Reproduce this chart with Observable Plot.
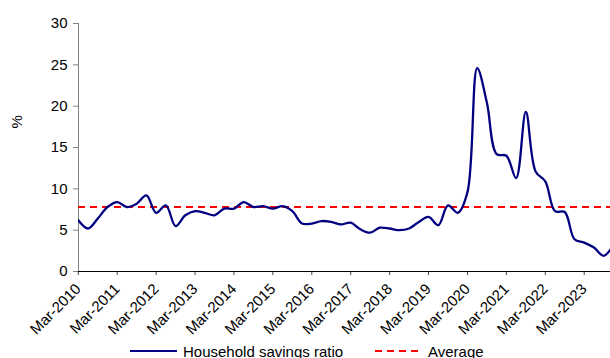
<!DOCTYPE html>
<html>
<head>
<meta charset="utf-8">
<script src="https://cdn.jsdelivr.net/npm/d3@7"></script>
<script src="https://cdn.jsdelivr.net/npm/@observablehq/plot@0.6"></script>
<style>
  html, body { margin: 0; padding: 0; background: #fff; }
  body { width: 610px; height: 358px; overflow: hidden; font-family: Arial, "Liberation Sans", sans-serif; }
  #legend { position: relative; width: 610px; height: 18px; font-size: 15px; color: #000; }
  #legend .item { position: absolute; top: 0; height: 18px; display: flex; align-items: center; white-space: nowrap; }
  #legend svg { display: block; margin-right: 6px; }
</style>
</head>
<body>
<div id="chart"></div>
<div id="legend">
  <div class="item" style="left:130px">
    <svg width="47" height="18"><line x1="0" x2="47" y1="11" y2="11" stroke="#000080" stroke-width="2"/></svg>
    <span style="position:relative;top:2px">Household savings ratio</span>
  </div>
  <div class="item" style="left:375px">
    <svg width="47" height="18"><line x1="0" x2="47" y1="11" y2="11" stroke="#ff0000" stroke-width="2" stroke-dasharray="7,5"/></svg>
    <span style="position:relative;top:2px">Average</span>
  </div>
</div>
<script>
// Quarterly periods
const quarters = [
  "Mar-2010","Jun-2010","Sep-2010","Dec-2010",
  "Mar-2011","Jun-2011","Sep-2011","Dec-2011",
  "Mar-2012","Jun-2012","Sep-2012","Dec-2012",
  "Mar-2013","Jun-2013","Sep-2013","Dec-2013",
  "Mar-2014","Jun-2014","Sep-2014","Dec-2014",
  "Mar-2015","Jun-2015","Sep-2015","Dec-2015",
  "Mar-2016","Jun-2016","Sep-2016","Dec-2016",
  "Mar-2017","Jun-2017","Sep-2017","Dec-2017",
  "Mar-2018","Jun-2018","Sep-2018","Dec-2018",
  "Mar-2019","Jun-2019","Sep-2019","Dec-2019",
  "Mar-2020","Jun-2020","Sep-2020","Dec-2020",
  "Mar-2021","Jun-2021","Sep-2021","Dec-2021",
  "Mar-2022","Jun-2022","Sep-2022","Dec-2022",
  "Mar-2023","Jun-2023","Sep-2023","Dec-2023"
];

// Household savings ratio, % (one value per quarter)
const savingsRatio = [
  6.2, 5.2, 6.4, 7.8,
  8.4, 7.8, 8.2, 9.2,
  7.1, 8.0, 5.5, 6.8,
  7.3, 7.1, 6.8, 7.6,
  7.6, 8.4, 7.8, 7.9,
  7.6, 7.9, 7.3, 5.8,
  5.8, 6.1, 6.0, 5.7,
  5.9, 5.1, 4.7, 5.3,
  5.2, 5.0, 5.2, 6.0,
  6.6, 5.6, 8.0, 7.1,
  9.6, 24.6, 20.4, 14.2,
  14.0, 11.3, 19.3, 12.1,
  10.9, 7.3, 7.2, 3.9,
  3.5, 2.9, 1.9, 3.2
];

// Long-run average of the ratio, %
const average = 7.8;

const yTicks = [0, 5, 10, 15, 20, 25, 30];
const xTickLabels = quarters.filter(q => q.startsWith("Mar"));

const data = quarters.map((q, i) => ({quarter: q, value: savingsRatio[i]}));

const chart = Plot.plot({
  width: 610,
  height: 340,
  marginLeft: 78,
  marginRight: 0,
  marginTop: 23,
  marginBottom: 69,
  style: {fontFamily: "Arial, 'Liberation Sans', sans-serif", fontSize: "15px", color: "#000", background: "#fff"},
  x: {type: "point", domain: quarters, range: [77.8, 612.9], padding: 0},
  y: {domain: [0, 30]},
  marks: [
    Plot.axisY({ticks: yTicks, tickSize: 5, tickPadding: 6, stroke: "#808080", label: null}),
    Plot.frame({anchor: "left", stroke: "#808080"}),
    Plot.axisX({ticks: xTickLabels, tickRotate: -45, tickSize: 4, tickPadding: 11, stroke: "#444", label: null}),
    Plot.ruleY([0], {stroke: "#000"}),
    Plot.ruleY([average], {stroke: "#ff0000", strokeWidth: 2, strokeDasharray: "7,5"}),
    Plot.line(data, {x: "quarter", y: "value", stroke: "#000080", strokeWidth: 2.3, curve: "catmull-rom", clip: true}),
    Plot.text(["%"], {frameAnchor: "left", dx: -61, dy: -19, rotate: -90, fontSize: 15})
  ]
});

document.getElementById("chart").appendChild(chart);
</script>
</body>
</html>
